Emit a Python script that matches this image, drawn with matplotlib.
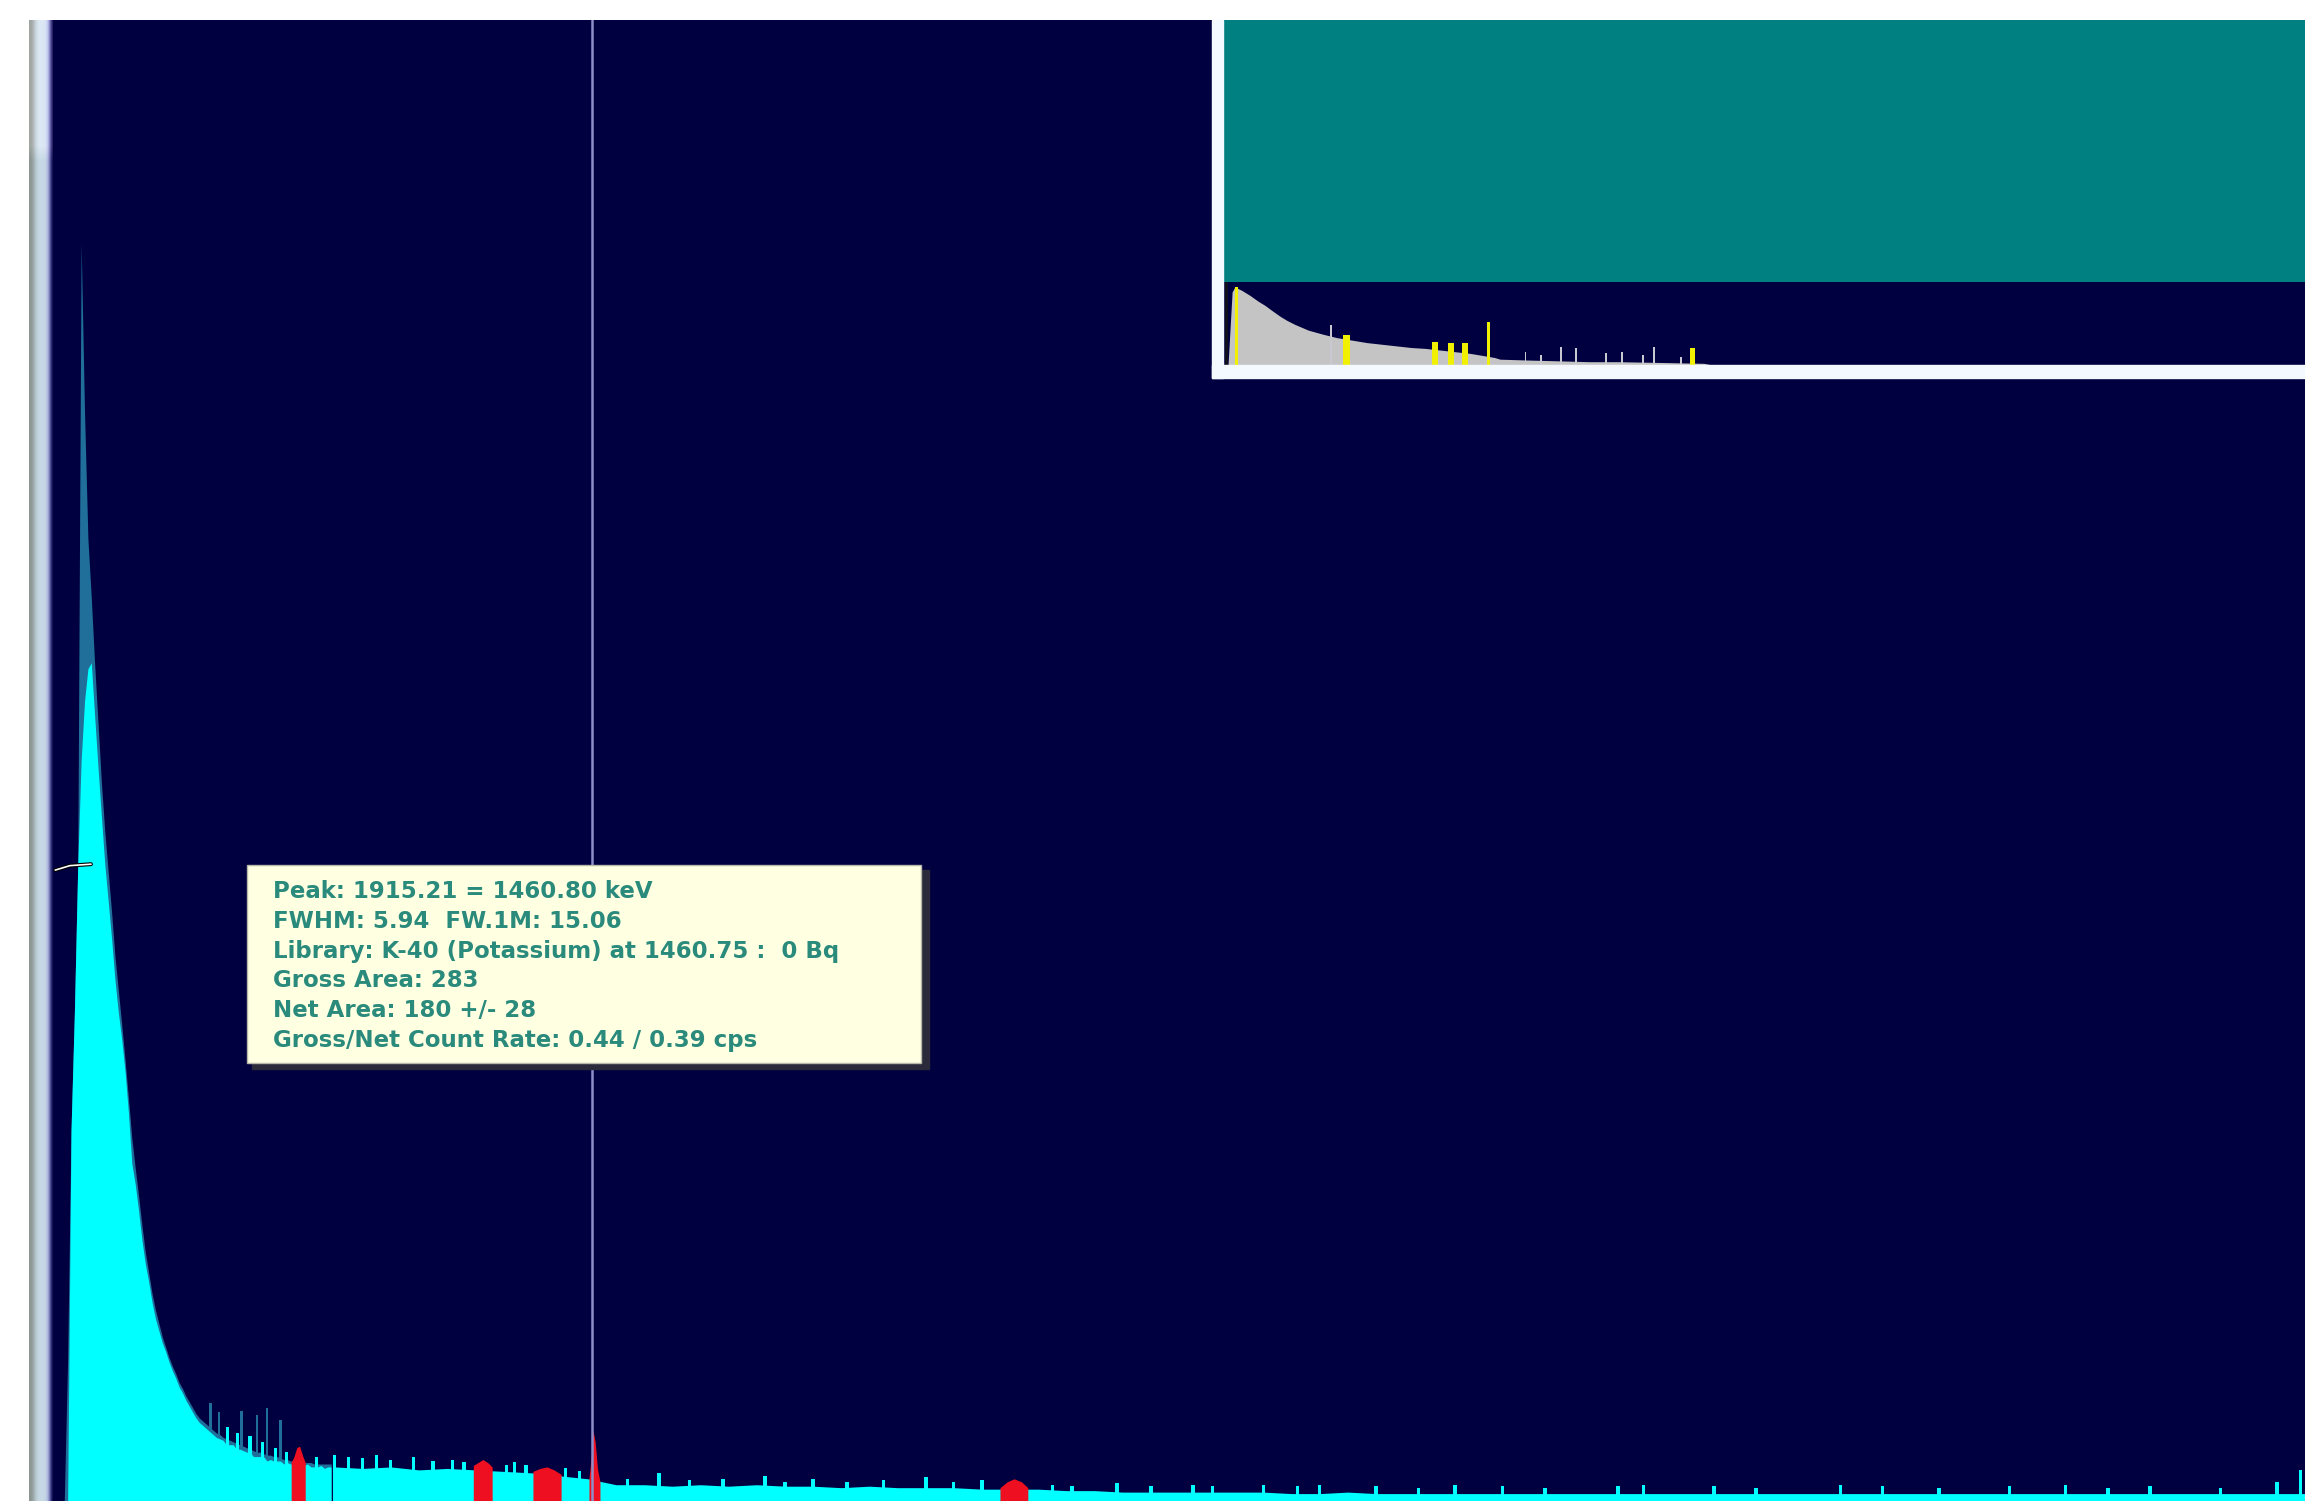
import numpy as np
import matplotlib
matplotlib.use("Agg")
import matplotlib.pyplot as plt
from matplotlib.patches import Rectangle
from matplotlib import patheffects as pe

W, H = 2305, 1501

# ---------------- main spectrum (channels / counts) ----------------
# low-energy part, 12-channel grid
low_channels = np.arange(40, 1000, 12)
low_counts = [0, 0, 250, 330, 430, 500, 540, 562, 566, 530,
              495, 462, 430, 405, 380, 352, 330, 312, 290, 262,
              228, 214, 196, 176, 160, 148, 134, 123, 115, 107,
              101, 94, 88, 83, 77, 73, 68, 64, 60, 56,
              53, 51, 49, 47, 45, 43, 42, 41, 38, 38,
              38, 35, 35, 34, 33, 33, 30, 30, 30, 30,
              27, 28, 27, 27, 27, 25, 26, 25, 25, 26,
              24, 24, 25, 23, 23, 23, 24, 22, 23, 23]
# earlier acquisition drawn underneath
prior_counts = [0, 96, 250, 330, 430, 849, 735, 650, 610, 565,
                525, 485, 452, 425, 398, 368, 345, 322, 298, 272,
                245, 225, 206, 186, 168, 154, 140, 129, 120, 111,
                104, 97, 91, 86, 80, 76, 71, 67, 63, 59,
                56, 54, 52, 50, 48, 46, 45, 43, 42, 41,
                40, 39, 38, 37, 36, 35, 34, 33, 33, 32,
                31, 31, 30, 30, 29, 28, 28, 27, 27, 27,
                27, 26, 26, 26, 25, 25, 25, 25, 25, 25]

# high-energy part, 100-channel grid
tail_channels = np.arange(1000, 8001, 100)
tail_counts = [23, 22, 23, 21, 22, 21, 20, 19, 17, 15,
               11, 11, 10, 11, 10, 11, 10, 10, 9, 10,
               9, 9, 9, 8, 8, 8, 7, 7, 6, 6,
               6, 6, 6, 6, 5, 5, 6, 5, 5, 5,
               5, 5, 5, 5, 5, 5, 5, 5, 5, 5,
               5, 5, 5, 5, 5, 5, 5, 5, 5, 5,
               5, 5, 5, 5, 5, 5, 5, 5, 5, 5, 5]

# single-channel spikes
spike_channels = [620, 655, 700, 745, 790, 830, 935, 1000, 1050, 1100,
                  1150, 1200, 1280, 1350, 1420, 1460, 1610, 1640, 1680, 1820,
                  1870, 2040, 2153, 2260, 2380, 2529, 2600, 2700, 2820, 2950,
                  3101, 3200, 3300, 3550, 3620, 3780, 3900, 4050, 4120, 4300,
                  4420, 4500, 4700, 4850, 4980, 5150, 5300, 5560, 5650, 5900,
                  6050, 6350, 6500, 6700, 6950, 7150, 7300, 7450, 7700, 7900, 7985]
spike_counts = [50, 46, 44, 40, 36, 33, 30, 31, 30, 29,
                31, 28, 30, 27, 28, 26, 24, 26, 24, 22,
                20, 15, 19, 14, 15, 17, 13, 15, 13, 14,
                16, 13, 14, 11, 10, 12, 10, 11, 10, 11,
                10, 11, 10, 9, 11, 10, 9, 10, 11, 10,
                9, 11, 10, 9, 10, 11, 9, 10, 9, 13, 21]
prior_spike_channels = [560, 590, 671, 725, 760, 809]
prior_spike_counts = [66, 60, 61, 58, 63, 55]

# regions of interest (peaks)
roi_channels = [[846, 856, 866, 876, 886, 896],
                [1493, 1510, 1527, 1544, 1560],
                [1705, 1730, 1755, 1780, 1805],
                [1904, 1912, 1918, 1926, 1934, 1943],
                [3364, 3390, 3414, 3440, 3463]]
roi_counts = [[26, 30, 36, 37, 31, 26],
              [24, 26, 28, 26, 23],
              [20, 22, 23, 21, 18],
              [15, 30, 48, 40, 22, 13],
              [9, 13, 15, 13, 9]]

cursor_channel = 1915.21

# ---------------- overview (whole spectrum, compressed) ----------------
ov_channels = [0, 30, 50, 100, 160, 220, 270, 320, 380, 430,
               490, 590, 700, 800, 910, 1020, 1130, 1240, 1350, 1450,
               1560, 1670, 1780, 1890, 1960, 2000, 2200, 2430, 2650, 2860,
               3200, 3500, 3560]
ov_counts = [0, 88, 94, 90, 84, 77, 72, 66, 59, 54,
             49, 42, 37, 33, 30, 27, 25, 23, 21, 20,
             18, 16, 14, 11, 9, 7, 6, 5, 4, 4,
             3, 2, 0]
ov_spike_channels = [760, 2187, 2300, 2448, 2560, 2780, 2900, 3050, 3134, 3330]
ov_spike_counts = [48, 16, 12, 22, 20, 14, 16, 12, 22, 10]
ov_roi_channels = [60, 870, 1524, 1642, 1744, 1915, 3414]
ov_roi_counts = [94, 36, 28, 26, 26, 52, 20]
ov_roi_widths = [20, 50, 45, 45, 45, 28, 40]

tooltip_lines = [
    "Peak: 1915.21 = 1460.80 keV",
    "FWHM: 5.94  FW.1M: 15.06",
    "Library: K-40 (Potassium) at 1460.75 :  0 Bq",
    "Gross Area: 283",
    "Net Area: 180 +/- 28",
    "Gross/Net Count Rate: 0.44 / 0.39 cps",
]

NAVY = "#000040"
CYAN = "#00ffff"
PRIOR = "#1f6f9a"
RED = "#ee1020"
TEAL = "#008080"

fig = plt.figure(figsize=(W / 100, H / 100), dpi=100, facecolor="white")


def fx(px):
    return px / W


def fy(py):
    # top-down pixel -> bottom-up figure fraction
    return 1 - py / H


# left scale bar (gradient)
bar_ax = fig.add_axes([fx(29), 0, fx(24), (H - 20) / H])
stops = np.array([[0.55, 0.59, 0.57], [0.56, 0.60, 0.59], [0.60, 0.65, 0.65],
                  [0.66, 0.72, 0.74], [0.72, 0.79, 0.82], [0.76, 0.83, 0.87],
                  [0.78, 0.85, 0.89], [0.78, 0.85, 0.90], [0.78, 0.85, 0.90],
                  [0.78, 0.84, 0.90], [0.76, 0.82, 0.90], [0.70, 0.74, 0.88],
                  [0.55, 0.57, 0.78], [0.30, 0.30, 0.58], [0.08, 0.08, 0.35]])
top_stops = np.clip(stops + np.array([0.08, 0.06, 0.06]), 0, 1)
img = np.concatenate([np.repeat(top_stops[None], 9, axis=0),
                      np.repeat(stops[None], 91, axis=0)], axis=0)
bar_ax.imshow(img, aspect="auto", interpolation="bilinear", extent=[0, 1, 0, 1])
bar_ax.set_axis_off()

# main spectrum axes
ax = fig.add_axes([fx(53), 0, 1 - fx(53), (H - 20) / H])
ax.set_facecolor(NAVY)
ax.set_xlim(0, 8000)
ax.set_ylim(0, 1000)
for s in ax.spines.values():
    s.set_visible(False)
ax.set_xticks([])
ax.set_yticks([])

ax.fill_between(low_channels, prior_counts, 0, color=PRIOR, lw=0, zorder=1)
ax.bar(prior_spike_channels, prior_spike_counts, width=10, color=PRIOR, lw=0, zorder=1.1)
ax.fill_between(low_channels, low_counts, 0, color=CYAN, lw=0, zorder=2)
ax.fill_between(tail_channels, tail_counts, 0, color=CYAN, lw=0, zorder=2)
ax.bar(spike_channels, spike_counts, width=12, color=CYAN, lw=0, zorder=2.1)
for rc, rv in zip(roi_channels, roi_counts):
    ax.fill_between(rc, rv, 0, color=RED, lw=0, zorder=3)

ax.axvline(cursor_channel, color="#8e8ec8", lw=1.8, zorder=4)

# small drag marker on the left
ax.plot([8, 60, 135], [426, 429, 430], color="white", lw=1.2, zorder=5,
        solid_capstyle="round",
        path_effects=[pe.withStroke(linewidth=2.8, foreground="black")])

# overview inset: teal header + navy strip
teal_ax = fig.add_axes([fx(1223), fy(282), 1 - fx(1223), (282 - 20) / H])
teal_ax.set_facecolor(TEAL)
teal_ax.set_xticks([])
teal_ax.set_yticks([])
for s in teal_ax.spines.values():
    s.set_visible(False)

ov_ax = fig.add_axes([fx(1223), fy(365), 1 - fx(1223), (365 - 282) / H])
ov_ax.set_facecolor(NAVY)
ov_ax.set_xlim(-37, 7919)
ov_ax.set_ylim(0, 100)
ov_ax.set_xticks([])
ov_ax.set_yticks([])
for s in ov_ax.spines.values():
    s.set_visible(False)
ov_ax.fill_between(ov_channels, ov_counts, 0, color="#c4c4c4", lw=0, zorder=1)
ov_ax.bar(ov_spike_channels, ov_spike_counts, width=14, color="#c8c8d0", lw=0, zorder=1.1)
ov_ax.bar(ov_roi_channels, ov_roi_counts, width=ov_roi_widths, color="#f0f000", lw=0, zorder=2)
ov_ax.axvline(-12, color="#101018", lw=2.0, zorder=3)

# white frame of the overview
fig.patches.append(Rectangle((fx(1212), fy(378)), fx(11), (378 - 20) / H,
                             transform=fig.transFigure, color="#f4f8ff", zorder=2))
fig.patches.append(Rectangle((fx(1212), fy(378)), 1 - fx(1212), 13 / H,
                             transform=fig.transFigure, color="#f4f8ff", zorder=2))

# peak info tooltip
fig.patches.append(Rectangle((fx(252), fy(1069)), fx(929 - 252), (1069 - 870) / H,
                             transform=fig.transFigure, color="#2a2a3a", zorder=6))
fig.patches.append(Rectangle((fx(247), fy(1063)), fx(921 - 247), (1063 - 865) / H,
                             transform=fig.transFigure, facecolor="#ffffe1",
                             edgecolor="#b8b8a8", lw=1.0, zorder=7))
for i, line in enumerate(tooltip_lines):
    fig.text(fx(273), fy(892 + i * 29.6), line, ha="left", va="center",
             fontsize=16.5, fontweight="bold", color="#2a8a7c",
             family="DejaVu Sans", zorder=8)

fig.savefig("out.png", dpi=100, facecolor="white")
